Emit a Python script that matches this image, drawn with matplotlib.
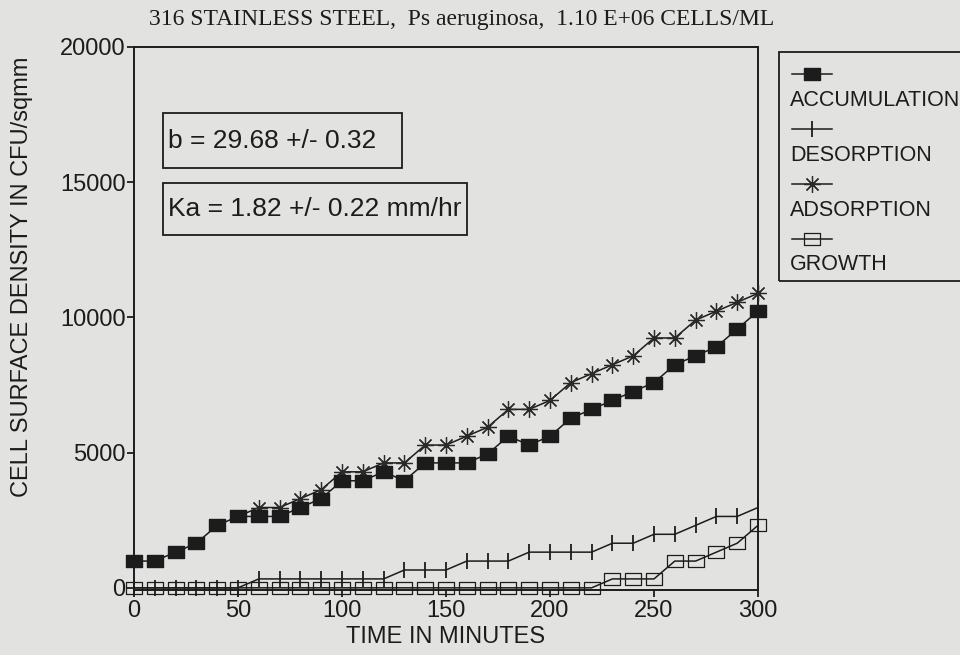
import matplotlib
matplotlib.use("Agg")
import matplotlib.pyplot as plt
from matplotlib.lines import Line2D
from matplotlib.patches import Rectangle
from matplotlib.path import Path

# cell counts per sampling time (CFU/sqmm)
minutes = list(range(0, 301, 10))
accumulation = [990, 990, 1320, 1650, 2310, 2640, 2640, 2640, 2970, 3300, 3960,
                3960, 4290, 3960, 4620, 4620, 4620, 4950, 5610, 5280, 5610,
                6270, 6600, 6930, 7260, 7590, 8250, 8580, 8910, 9570, 10230]
desorption = [0, 0, 0, 0, 0, 0, 330, 330, 330, 330, 330,
              330, 330, 660, 660, 660, 990, 990, 990, 1320, 1320,
              1320, 1320, 1650, 1650, 1980, 1980, 2310, 2640, 2640, 2970]
# adsorption is only plotted from 50 min on
adsorption_minutes = minutes[5:]
adsorption = [2640, 2970, 2970, 3300, 3630, 4290,
              4290, 4620, 4620, 5280, 5280, 5610, 5940, 6600, 6600, 6930,
              7590, 7920, 8250, 8580, 9240, 9240, 9900, 10230, 10560, 10890]
growth = [0, 0, 0, 0, 0, 0, 0, 0, 0, 0, 0,
          0, 0, 0, 0, 0, 0, 0, 0, 0, 0,
          0, 0, 330, 330, 330, 990, 990, 1320, 1650, 2310]

title = "316 STAINLESS STEEL,  Ps aeruginosa,  1.10 E+06 CELLS/ML"
fit_labels = ["b = 29.68 +/- 0.32", "Ka = 1.82 +/- 0.22 mm/hr"]
series_names = ["ACCUMULATION", "DESORPTION", "ADSORPTION", "GROWTH"]

INK = "#1c1c1c"
PAPER = "#e2e2e0"
W, H = 960, 655

plt.rcParams["font.family"] = ["Liberation Sans", "DejaVu Sans"]

# flat rectangle used for the square markers
rect = Path([(-1, -0.75), (1, -0.75), (1, 0.75), (-1, 0.75), (-1, -0.75)],
            [Path.MOVETO, Path.LINETO, Path.LINETO, Path.LINETO, Path.CLOSEPOLY])

styles = [
    dict(marker=rect, markersize=11, markerfacecolor=INK, markeredgecolor=INK),
    dict(marker="|", markersize=11, markeredgewidth=1.3, markeredgecolor=INK),
    dict(marker=(8, 2, 0), markersize=12, markeredgewidth=0.9, markeredgecolor="#2a2a2a"),
    dict(marker=rect, markersize=12, markerfacecolor="none", markeredgewidth=0.9,
         markeredgecolor=INK),
]


def fx(px):
    return px / W


def fy(py):
    return 1 - py / H


fig = plt.figure(figsize=(9.6, 6.55), dpi=100, facecolor=PAPER)
ax = fig.add_axes([fx(134), fy(590), fx(758) - fx(134), fy(47) - fy(590)])
ax.set_facecolor(PAPER)

ax.plot(minutes, growth, color=INK, lw=1.1, clip_on=False, zorder=3, **styles[3])
ax.plot(minutes, desorption, color=INK, lw=1.1, clip_on=False, zorder=4, **styles[1])
ax.plot(adsorption_minutes, adsorption, color=INK, lw=1.1, clip_on=False, zorder=5,
        markevery=slice(1, None), **styles[2])
ax.plot(minutes, accumulation, color=INK, lw=1.1, clip_on=False, zorder=6, **styles[0])

ax.set_xlim(0, 300)
ax.set_ylim(-80, 20000)
ax.set_xticks(range(0, 301, 50))
ax.set_yticks(range(0, 20001, 5000))
for side in ax.spines.values():
    side.set_linewidth(1.4)
    side.set_color(INK)
ax.tick_params(colors=INK, labelsize=17, width=1.3, length=5, pad=1)
ax.tick_params(axis="x", pad=2)
ax.set_xlabel("TIME IN MINUTES", fontsize=17, color=INK, labelpad=3)
fig.text(fx(22), fy(277), "CELL SURFACE DENSITY IN CFU/sqmm", rotation=90,
         ha="center", va="center", fontsize=17, color=INK)

fig.text(fx(462), fy(19), title, ha="center", va="center", fontsize=17,
         family=["Liberation Serif", "DejaVu Serif"], color=INK)

# fitted-parameter boxes
for label, (x0, y0, x1, y1) in zip(fit_labels, [(163, 113, 402, 168), (163, 183, 467, 235)]):
    fig.patches.append(Rectangle((fx(x0), fy(y1)), fx(x1) - fx(x0), fy(y0) - fy(y1),
                                 transform=fig.transFigure, fill=False,
                                 lw=1.3, edgecolor=INK))
    fig.text(fx(x0 + 5), fy((y0 + y1) / 2), label, ha="left", va="center",
             fontsize=19, color=INK)

# legend box running off the right edge
fig.patches.append(Rectangle((fx(779), fy(281)), fx(1000) - fx(779), fy(52) - fy(281),
                             transform=fig.transFigure, fill=False, lw=1.3,
                             edgecolor=INK, clip_on=False))
for k, name in enumerate(series_names):
    ky = 74 + 55 * k
    key = Line2D([fx(792), fx(812), fx(832)], [fy(ky)] * 3, transform=fig.transFigure,
                 color=INK, lw=1.1, markevery=[1], **styles[k])
    fig.lines.append(key)
    fig.text(fx(790), fy(ky + 26), name, ha="left", va="center", fontsize=15.5,
             color=INK)

fig.savefig("out.png", dpi=100, facecolor=PAPER)
